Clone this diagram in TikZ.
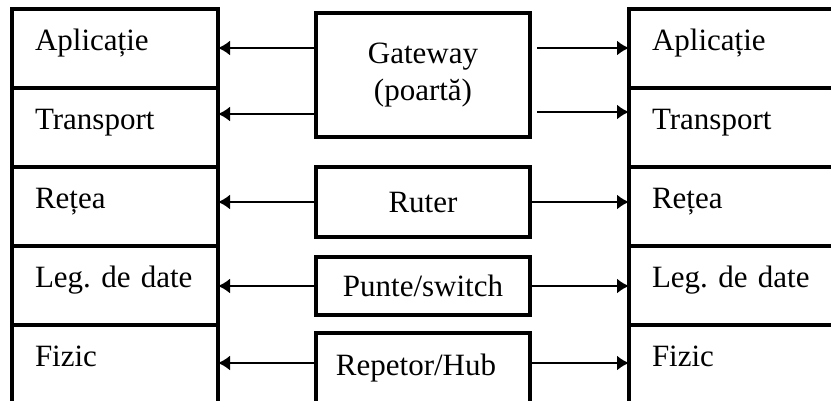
\documentclass[tikz,border=0pt]{standalone}
\usepackage{fontspec}
\setmainfont{Liberation Serif}
\usepackage{tikz}
\usetikzlibrary{positioning, arrows.meta}
\newcommand{\layerfont}{\fontsize{31}{37}\selectfont}
\tikzset{
    layer/.style={rectangle, draw=black, line width=4pt, outer sep=0pt, minimum width=206pt, minimum height=79pt, text width=160pt, inner xsep=23pt, inner ysep=0pt, text height=41pt, text depth=38pt, align=left, font=\layerfont},
    device/.style={rectangle, draw=black, line width=4pt, minimum width=214pt, inner sep=0pt, align=center, font=\layerfont},
    arrow/.style={-{Latex[length=12pt, width=15pt]}, line width=2pt}
}
\begin{document}
\begin{tikzpicture}[x=1pt, y=-1pt]
    \useasboundingbox (0,0) rectangle (831,400);
    \clip (0,0) rectangle (831,400);

    % stiva din stanga
    \node[layer] (aplL) at (115,48.5) {Aplicație};
    \node[layer, below=0pt of aplL] (trL) {Transport};
    \node[layer, below=0pt of trL] (retL) {Rețea};
    \node[layer, below=0pt of retL] (legL) {Leg.~de~date};
    \node[layer, below=0pt of legL] (fizL) {Fizic};

    % stiva din dreapta
    \node[layer] (aplR) at (732,48.5) {Aplicație};
    \node[layer, below=0pt of aplR] (trR) {Transport};
    \node[layer, below=0pt of trR] (retR) {Rețea};
    \node[layer, below=0pt of retR] (legR) {Leg.~de~date};
    \node[layer, below=0pt of legR] (fizR) {Fizic};

    % echipamente
    \node[device, minimum height=124pt] (gw) at (423,75) {Gateway\\(poartă)};
    \node[device, minimum height=70pt] (ruter) at (423,202) {Ruter};
    \node[device, minimum height=58pt] (punte) at (423,286) {Punte/switch};
    \node[device, minimum height=80pt, text height=42pt, text depth=38pt] (rep) at (423,373) {Repetor/Hub\hspace*{14pt}};

    \draw[arrow] ([yshift=-37pt]gw.north west) coordinate (gwA) -- (gwA -| aplL.east);
    \draw[arrow] ([yshift=25pt]gw.south west) coordinate (gwT) -- (gwT -| trL.east);
    \draw[arrow] ([xshift=5pt, yshift=-37pt]gw.north east) coordinate (gwB) -- (gwB -| aplR.west);
    \draw[arrow] ([xshift=5pt, yshift=27pt]gw.south east) coordinate (gwC) -- (gwC -| trR.west);

    \draw[arrow] (ruter.west) -- (ruter.west -| retL.east);
    \draw[arrow] (ruter.east) -- (ruter.east -| retR.west);
    \draw[arrow] (punte.west) -- (punte.west -| legL.east);
    \draw[arrow] (punte.east) -- (punte.east -| legR.west);
    \draw[arrow] ([yshift=10pt]rep.west) coordinate (repA) -- (repA -| fizL.east);
    \draw[arrow] ([yshift=10pt]rep.east) coordinate (repB) -- (repB -| fizR.west);
\end{tikzpicture}
\end{document}
